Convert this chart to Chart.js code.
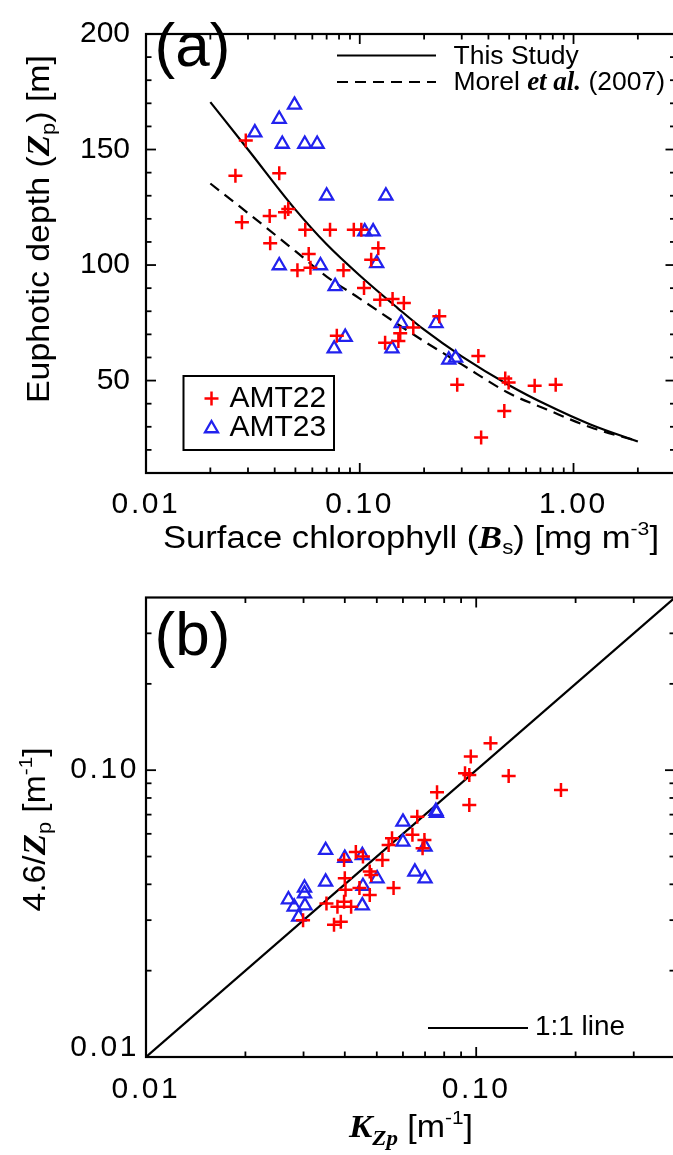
<!DOCTYPE html>
<html><head><meta charset="utf-8">
<script src="https://cdn.jsdelivr.net/npm/chart.js@4.4.0/dist/chart.umd.min.js"></script>
<style>
html,body{margin:0;padding:0;background:#fff;width:673px;height:1155px;overflow:hidden;}
canvas{position:absolute;left:0;display:block;}
#ca{top:0;}
#cb{top:580px;}
</style></head><body>
<canvas id="ca" width="700" height="580"></canvas>
<canvas id="cb" width="700" height="575"></canvas>
<script>
// ---------- Panel (a) data ----------
const amt22Chl = [0.0293,0.0262,0.0420,0.0281,0.0379,0.0447,0.0463,0.0556,0.0726,0.0938,0.1017,0.0381,0.0577,0.1221,0.1131,0.0511,0.0588,0.0839,0.1047,0.1245,0.1424,0.1608,0.2356,0.1780,0.0781,0.1314,0.1546,0.1516,0.3588,0.4793,0.4971,0.2857,0.6580,0.8253,0.4745,0.3697];
const amt22Zp  = [153.9,138.7,139.7,118.5,121.2,122.9,124.3,115.3,115.3,115.3,115.3,109.4,104.8,107.3,102.3,97.8,98.8,97.8,90.1,85.0,85.3,83.6,77.8,73.0,69.4,66.4,70.5,67.1,60.6,50.9,49.2,48.2,47.8,48.2,36.8,25.4];
const amt23Chl = [0.0495,0.0420,0.0323,0.0434,0.0553,0.0632,0.0700,0.1325,0.1055,0.1155,0.0420,0.0655,0.1200,0.0767,0.1563,0.2274,0.0855,0.0759,0.1415,0.2609,0.2807];
const amt23Zp  = [169.3,163.2,157.3,152.4,152.4,152.4,130.0,130.0,114.5,114.5,99.8,99.8,100.7,90.8,74.8,74.8,68.8,63.8,63.8,59.0,59.8];
const fitChl        = [0.02,0.03,0.05,0.07,0.1,0.15,0.2,0.3,0.5,0.75,1.2,2.0];
const fitThisStudy  = [170.5,150,124,109,95.5,81.5,72,60.5,48,39.5,31,23.6];
const fitMorel      = [135.3,122.5,106,95,85.5,74.5,67,57,44.5,37.5,29.8,23.8];
const chlTicks = [0.01,0.1,1];
const chlTickLabels = ['0.01','0.10','1.00'];
const zpTicks = [50,100,150,200];
const zpTickLabels = ['50','100','150','200'];

// ---------- Panel (b) data ----------
const b22K = [0.0925,0.0953,0.1254,0.1806,0.0761,0.0953,0.0663,0.0641,0.0697,0.0688,0.0556,0.0543,0.0520,0.0432,0.0454,0.0398,0.0400,0.0402,0.0398,0.0380,0.0476,0.0481,0.0443,0.0476,0.0562,0.0352,0.0418,0.0371,0.0389,0.0299,0.1105,0.0963];
const b22Y = [0.0976,0.0962,0.0954,0.0853,0.0838,0.0756,0.0688,0.0595,0.0571,0.0534,0.0579,0.0548,0.0486,0.0519,0.0500,0.0486,0.0420,0.0383,0.0348,0.0334,0.0443,0.0431,0.0388,0.0367,0.0388,0.0343,0.0334,0.0289,0.0296,0.0300,0.1241,0.1115];
const b23K = [0.0755,0.0758,0.0600,0.0600,0.0700,0.0350,0.0400,0.0452,0.0652,0.0700,0.0501,0.0454,0.0350,0.0302,0.0302,0.0270,0.0303,0.0281,0.0290,0.0452];
const b23Y = [0.0720,0.0709,0.0660,0.0562,0.0540,0.0526,0.0494,0.0505,0.0442,0.0419,0.0419,0.0394,0.0408,0.0389,0.0371,0.0354,0.0337,0.0334,0.0308,0.0337];
const oneToOne = [0.01,0.4];
const kTicks = [0.01,0.1];
const kTickLabels = ['0.01','0.10'];

// ---------- styling helpers ----------
const S = "'Liberation Sans', Arial, Helvetica, sans-serif";
const SER = "'Liberation Serif', 'Times New Roman', serif";
const RED = '#ff0000', BLUE = '#2222ee';
const TICK_SPACING = '2.6px';
const pts = (xs, ys) => xs.map((x, i) => ({x, y: ys[i]}));
const hasLS = (ctx) => ('letterSpacing' in ctx);

// draw a run of styled text segments; optional target width stretches the run horizontally
function rich(ctx, segs, x, y, rot, align, target) {
  ctx.save(); ctx.translate(x, y); if (rot) ctx.rotate(rot);
  ctx.textBaseline = 'alphabetic'; ctx.textAlign = 'left'; ctx.fillStyle = '#000';
  if (hasLS(ctx)) ctx.letterSpacing = '0px';
  let w = 0;
  for (const s of segs) { ctx.font = s.f; w += ctx.measureText(s.t).width; }
  let k = 1;
  if (target) k = target / w;
  ctx.scale(k, 1);
  let cx = align === 'center' ? -w / 2 : 0;
  for (const s of segs) { ctx.font = s.f; ctx.fillText(s.t, cx, s.dy || 0); cx += ctx.measureText(s.t).width; }
  ctx.restore();
}
function line(ctx, x1, y1, x2, y2) { ctx.beginPath(); ctx.moveTo(x1, y1); ctx.lineTo(x2, y2); ctx.stroke(); }
function frameAndTicks(chart, xMaj, xMin, yMaj, yMin) {
  const ctx = chart.ctx, a = chart.chartArea, sx = chart.scales.x, sy = chart.scales.y;
  ctx.save(); ctx.strokeStyle = '#000'; ctx.lineWidth = 1.8; ctx.lineCap = 'butt';
  const X = (v, len) => { const p = sx.getPixelForValue(v); line(ctx, p, a.bottom, p, a.bottom - len); line(ctx, p, a.top, p, a.top + len); };
  const Y = (v, len) => { const p = sy.getPixelForValue(v); line(ctx, a.left, p, a.left + len, p); line(ctx, a.right, p, a.right - len, p); };
  xMaj.forEach(v => X(v, 10)); xMin.forEach(v => X(v, 5.5));
  yMaj.forEach(v => Y(v, 10)); yMin.forEach(v => Y(v, 5.5));
  ctx.lineWidth = 2.2; ctx.strokeRect(a.left, a.top, a.right - a.left, a.bottom - a.top);
  ctx.restore();
}
function drawCross(ctx, x, y, r) { ctx.save(); ctx.strokeStyle = RED; ctx.lineWidth = 2.5; line(ctx, x - r, y, x + r, y); line(ctx, x, y - r, x, y + r); ctx.restore(); }
function drawTri(ctx, x, y, r) {
  ctx.save(); ctx.strokeStyle = BLUE; ctx.lineWidth = 2.3; ctx.beginPath();
  ctx.moveTo(x, y - r); ctx.lineTo(x + r * 0.866, y + r / 2); ctx.lineTo(x - r * 0.866, y + r / 2); ctx.closePath(); ctx.stroke(); ctx.restore();
}
function logMinors(decades, max) { const out = []; decades.forEach(d => { for (let m = 2; m <= 9; m++) { const v = m * d; if (v <= max * 1.0001) out.push(v); } }); return out; }

// widen the decimal tick labels (drawn in the z=1 layer, after the datasets)
const spacing = {
  id: 'spacing',
  afterDatasetsDraw(chart) { if (hasLS(chart.ctx)) chart.ctx.letterSpacing = TICK_SPACING; },
  afterDraw(chart) { if (hasLS(chart.ctx)) chart.ctx.letterSpacing = '0px'; }
};

const tickFont = {family: S, size: 30};
const common = {
  animation: false, responsive: false, devicePixelRatio: 1, events: [],
  plugins: {legend: {display: false}, tooltip: {enabled: false}}
};

// ---------- Chart (a) ----------
const decoA = {
  id: 'decoA',
  afterDraw(chart) {
    const ctx = chart.ctx;
    if (hasLS(ctx)) ctx.letterSpacing = '0px';
    const yMin = []; for (let v = 20; v < 200; v += 10) if (v % 50) yMin.push(v);
    frameAndTicks(chart, chlTicks, logMinors(chlTicks, 3), zpTicks, yMin);
    rich(ctx, [{t: '(a)', f: `62px ${S}`}], 154.5, 66);
    ctx.save(); ctx.strokeStyle = '#000'; ctx.lineWidth = 2.2;
    line(ctx, 337, 55.5, 436, 55.5);
    ctx.setLineDash([11, 7]); line(ctx, 337, 82, 436, 82);
    ctx.restore();
    rich(ctx, [{t: 'This Study', f: `26.5px ${S}`}], 453.5, 64);
    rich(ctx, [{t: 'Morel ', f: `26.5px ${S}`}, {t: 'et al.', f: `bold italic 27px ${SER}`}, {t: ' (2007)', f: `26.5px ${S}`}], 453.5, 90);
    ctx.save(); ctx.strokeStyle = '#000'; ctx.lineWidth = 2; ctx.strokeRect(183.5, 376, 150.5, 74); ctx.restore();
    drawCross(ctx, 211.5, 398.5, 7);
    drawTri(ctx, 211.5, 428.5, 7.5);
    rich(ctx, [{t: 'AMT22', f: `30px ${S}`}], 229.5, 407);
    rich(ctx, [{t: 'AMT23', f: `30px ${S}`}], 229.5, 435.5);
    rich(ctx, [{t: 'Surface chlorophyll (', f: `31px ${S}`}, {t: 'B', f: `bold italic 32px ${SER}`}, {t: 's', f: `20px ${S}`, dy: 6},
               {t: ') [mg m', f: `31px ${S}`}, {t: '-3', f: `19px ${S}`, dy: -13}, {t: ']', f: `31px ${S}`}], 411, 548, 0, 'center', 496);
    rich(ctx, [{t: 'Euphotic depth (', f: `31px ${S}`}, {t: 'Z', f: `bold italic 32px ${SER}`}, {t: 'p', f: `20px ${S}`, dy: 6},
               {t: ') [m]', f: `31px ${S}`}], 48.5, 229, -Math.PI / 2, 'center', 348);
  }
};
new Chart(document.getElementById('ca'), {
  type: 'scatter',
  data: {datasets: [
    {label: 'AMT22', data: pts(amt22Chl, amt22Zp), pointStyle: 'cross', pointRadius: 7, borderColor: RED, backgroundColor: RED, borderWidth: 2.5},
    {label: 'AMT23', data: pts(amt23Chl, amt23Zp), pointStyle: 'triangle', pointRadius: 7.5, borderColor: BLUE, backgroundColor: 'rgba(0,0,0,0)', borderWidth: 2.3},
    {label: 'This Study', data: pts(fitChl, fitThisStudy), showLine: true, pointRadius: 0, borderColor: '#000', borderWidth: 2.2, cubicInterpolationMode: 'monotone'},
    {label: 'Morel et al. (2007)', data: pts(fitChl, fitMorel), showLine: true, pointRadius: 0, borderColor: '#000', borderWidth: 2.2, borderDash: [11, 7], cubicInterpolationMode: 'monotone'}
  ]},
  options: Object.assign({}, common, {
    layout: {padding: {top: 13.5, right: 24.5, left: 0, bottom: 0}},
    scales: {
      x: {type: 'logarithmic', min: 0.01, max: 3,
          grid: {display: false, drawTicks: false}, border: {display: false},
          ticks: {z: 1, font: tickFont, color: '#000', padding: 14, maxRotation: 0, autoSkip: false, callback: (v, i) => chlTickLabels[i]},
          afterBuildTicks: s => { s.ticks = chlTicks.map(v => ({value: v})); },
          afterFit: s => { s.height = 107; }},
      y: {type: 'linear', min: 10, max: 200,
          grid: {display: false, drawTicks: false}, border: {display: false},
          ticks: {font: tickFont, color: '#000', padding: 16, autoSkip: false, callback: (v, i) => zpTickLabels[i]},
          afterBuildTicks: s => { s.ticks = zpTicks.map(v => ({value: v})); },
          afterFit: s => { s.width = 146; }}
    }
  }),
  plugins: [spacing, decoA]
});

// ---------- Chart (b) ----------
const decoB = {
  id: 'decoB',
  afterDraw(chart) {
    const ctx = chart.ctx;
    if (hasLS(ctx)) ctx.letterSpacing = '0px';
    const mins = logMinors([0.01, 0.1], 0.3);
    frameAndTicks(chart, kTicks, mins, kTicks, mins);
    rich(ctx, [{t: '(b)', f: `62px ${S}`}], 154.5, 75);
    ctx.save(); ctx.strokeStyle = '#000'; ctx.lineWidth = 2.2; line(ctx, 428, 448, 528, 448); ctx.restore();
    rich(ctx, [{t: '1:1 line', f: `28px ${S}`}], 535, 454.5, 0, null, 90);
    rich(ctx, [{t: 'K', f: `bold italic 32px ${SER}`}, {t: 'Zp', f: `bold italic 21px ${SER}`, dy: 8},
               {t: ' [m', f: `31px ${S}`}, {t: '-1', f: `19px ${S}`, dy: -13}, {t: ']', f: `31px ${S}`}], 411, 557, 0, 'center', 124);
    rich(ctx, [{t: '4.6/', f: `31px ${S}`}, {t: 'Z', f: `bold italic 32px ${SER}`}, {t: 'p', f: `20px ${S}`, dy: 6},
               {t: ' [m', f: `31px ${S}`}, {t: '-1', f: `19px ${S}`, dy: -13}, {t: ']', f: `31px ${S}`}], 45, 249.5, -Math.PI / 2, 'center', 164);
  }
};
new Chart(document.getElementById('cb'), {
  type: 'scatter',
  data: {datasets: [
    {label: 'AMT22', data: pts(b22K, b22Y), pointStyle: 'cross', pointRadius: 7, borderColor: RED, backgroundColor: RED, borderWidth: 2.5},
    {label: 'AMT23', data: pts(b23K, b23Y), pointStyle: 'triangle', pointRadius: 7.5, borderColor: BLUE, backgroundColor: 'rgba(0,0,0,0)', borderWidth: 2.3},
    {label: '1:1 line', data: pts(oneToOne, oneToOne), showLine: true, pointRadius: 0, borderColor: '#000', borderWidth: 2.2}
  ]},
  options: Object.assign({}, common, {
    layout: {padding: {top: 17.5, right: 25, left: 0, bottom: 0}},
    scales: {
      x: {type: 'logarithmic', min: 0.01, max: 0.4,
          grid: {display: false, drawTicks: false}, border: {display: false},
          ticks: {z: 1, font: tickFont, color: '#000', padding: 15, maxRotation: 0, autoSkip: false, callback: (v, i) => kTickLabels[i]},
          afterBuildTicks: s => { s.ticks = kTicks.map(v => ({value: v})); },
          afterFit: s => { s.height = 98; }},
      y: {type: 'logarithmic', min: 0.01, max: 0.4,
          grid: {display: false, drawTicks: false}, border: {display: false},
          ticks: {z: 1, font: {family: S, size: 30, lineHeight: 0.6}, color: '#000', padding: 7, autoSkip: false,
                  callback: (v, i) => i === 0 ? [kTickLabels[i], ''] : kTickLabels[i]},
          afterBuildTicks: s => { s.ticks = kTicks.map(v => ({value: v})); },
          afterFit: s => { s.width = 146; }}
    }
  }),
  plugins: [spacing, decoB]
});
</script>
</body></html>
